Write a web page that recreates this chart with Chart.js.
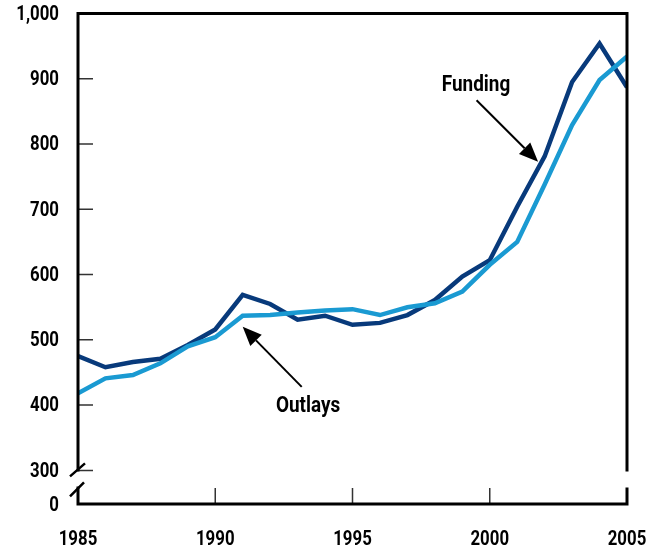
<!DOCTYPE html>
<html>
<head>
<meta charset="utf-8">
<script src="https://cdn.jsdelivr.net/npm/chart.js@4"></script>
<style>
  html, body { margin: 0; padding: 0; background: #fff; }
  #wrap { width: 661px; height: 552px; }
</style>
</head>
<body>
<div id="wrap"><canvas id="chart" width="661" height="552"></canvas></div>
<script>
var years = [1985, 1986, 1987, 1988, 1989, 1990, 1991, 1992, 1993, 1994, 1995,
             1996, 1997, 1998, 1999, 2000, 2001, 2002, 2003, 2004, 2005];
var funding = [475, 458, 466, 471, 492, 516, 569, 555, 531, 537, 523,
               526, 538, 561, 597, 622, 704, 781, 895, 954, 887];
var outlays = [418, 441, 446, 464, 490, 504, 537, 538, 542, 545, 547,
               538, 550, 556, 574, 615, 650, 738, 829, 898, 934];
var yTicks = [300, 400, 500, 600, 700, 800, 900, 1000];
var yLabels = ['300', '400', '500', '600', '700', '800', '900', '1,000'];
var xTicks = [1985, 1990, 1995, 2000, 2005];
// the "0" sits below the axis break, just under 300
var zeroPos = 248.5;

var labelFont = 'Roboto, "DejaVu Sans", sans-serif';

// annotations in data units: text and arrow (tail -> tip)
var notes = [
  { text: 'Funding', x: 1999.5, y: 889, tail: [1999.52, 867], tip: [2001.76, 773] },
  { text: 'Outlays', x: 1993.38, y: 398, tail: [1993.15, 428], tip: [1991.0, 520] }
];

// narrow text, squeezed horizontally to look like a condensed face
function drawText(ctx, text, x, y, align, sx) {
  ctx.save();
  ctx.translate(x, y);
  ctx.scale(sx || 0.8, 1);
  ctx.textAlign = align;
  ctx.textBaseline = 'middle';
  ctx.fillText(text, 0, 0);
  ctx.restore();
}

var framePlugin = {
  id: 'frame',
  afterDatasetsDraw: function(chart) {
    var ctx = chart.ctx;
    var xs = chart.scales.x, ys = chart.scales.y;
    var a = chart.chartArea;
    var y300 = ys.getPixelForValue(300);
    ctx.save();
    // tick marks, pointing in
    ctx.strokeStyle = '#333';
    ctx.lineWidth = 1.5;
    ctx.beginPath();
    yTicks.slice(0, -1).forEach(function(v) {
      var py = ys.getPixelForValue(v);
      ctx.moveTo(a.left, py); ctx.lineTo(a.left + 15, py);
    });
    xTicks.slice(1, -1).forEach(function(v) {
      var px = xs.getPixelForValue(v);
      ctx.moveTo(px, a.bottom); ctx.lineTo(px, a.bottom - 16);
    });
    ctx.stroke();

    // box with breaks
    ctx.strokeStyle = '#000';
    ctx.lineWidth = 3;
    ctx.lineCap = 'butt';
    ctx.beginPath();
    ctx.moveTo(a.left, y300 + 1);
    ctx.lineTo(a.left, a.top);
    ctx.lineTo(a.right, a.top);
    ctx.lineTo(a.right, y300 + 1);
    ctx.moveTo(a.left, y300 + 16);
    ctx.lineTo(a.left, a.bottom);
    ctx.lineTo(a.right, a.bottom);
    ctx.lineTo(a.right, y300 + 17);
    ctx.stroke();
    // break slashes
    ctx.lineWidth = 2.5;
    ctx.beginPath();
    ctx.moveTo(a.left - 8, y300 + 6); ctx.lineTo(a.left + 7, y300 - 7);
    ctx.moveTo(a.left - 8, y300 + 26); ctx.lineTo(a.left + 6, y300 + 12);
    ctx.stroke();

    // tick labels
    ctx.fillStyle = '#000';
    ctx.font = 'bold 21px ' + labelFont;
    yTicks.forEach(function(v, i) {
      drawText(ctx, yLabels[i], a.left - 19, ys.getPixelForValue(v) + 1, 'right');
    });
    drawText(ctx, '0', a.left - 19, ys.getPixelForValue(zeroPos) + 2, 'right');
    xTicks.forEach(function(v) {
      drawText(ctx, String(v), xs.getPixelForValue(v), a.bottom + 36, 'center');
    });

    // annotations
    ctx.font = 'bold 22px ' + labelFont;
    notes.forEach(function(n) {
      drawText(ctx, n.text, xs.getPixelForValue(n.x), ys.getPixelForValue(n.y), 'center', 0.86);
      var x0 = xs.getPixelForValue(n.tail[0]), y0 = ys.getPixelForValue(n.tail[1]);
      var x1 = xs.getPixelForValue(n.tip[0]), y1 = ys.getPixelForValue(n.tip[1]);
      var ang = Math.atan2(y1 - y0, x1 - x0);
      var hl = 19, hw = 8;
      var bx = x1 - hl * Math.cos(ang), by = y1 - hl * Math.sin(ang);
      ctx.lineWidth = 2;
      ctx.beginPath();
      ctx.moveTo(x0, y0); ctx.lineTo(bx, by);
      ctx.stroke();
      ctx.beginPath();
      ctx.moveTo(x1, y1);
      ctx.lineTo(bx + hw * Math.sin(ang), by - hw * Math.cos(ang));
      ctx.lineTo(bx - hw * Math.sin(ang), by + hw * Math.cos(ang));
      ctx.closePath();
      ctx.fill();
    });
    ctx.restore();
  }
};

function pairs(vals) {
  return vals.map(function(v, i) { return { x: years[i], y: v }; });
}

new Chart(document.getElementById('chart'), {
  type: 'line',
  data: {
    datasets: [
      { label: 'Outlays', data: pairs(outlays), borderColor: '#1a9ad2', borderWidth: 4.5,
        pointRadius: 0, tension: 0, fill: false },
      { label: 'Funding', data: pairs(funding), borderColor: '#083a7b', borderWidth: 4.5,
        pointRadius: 0, tension: 0, fill: false }
    ]
  },
  options: {
    responsive: false,
    animation: false,
    layout: { padding: { top: 13.5, right: 34, left: 78, bottom: 48 } },
    plugins: { legend: { display: false }, tooltip: { enabled: false } },
    scales: {
      x: { type: 'linear', min: 1985, max: 2005, display: false },
      y: { type: 'linear', min: zeroPos, max: 1000, display: false }
    }
  },
  plugins: [framePlugin]
});
</script>
</body>
</html>
